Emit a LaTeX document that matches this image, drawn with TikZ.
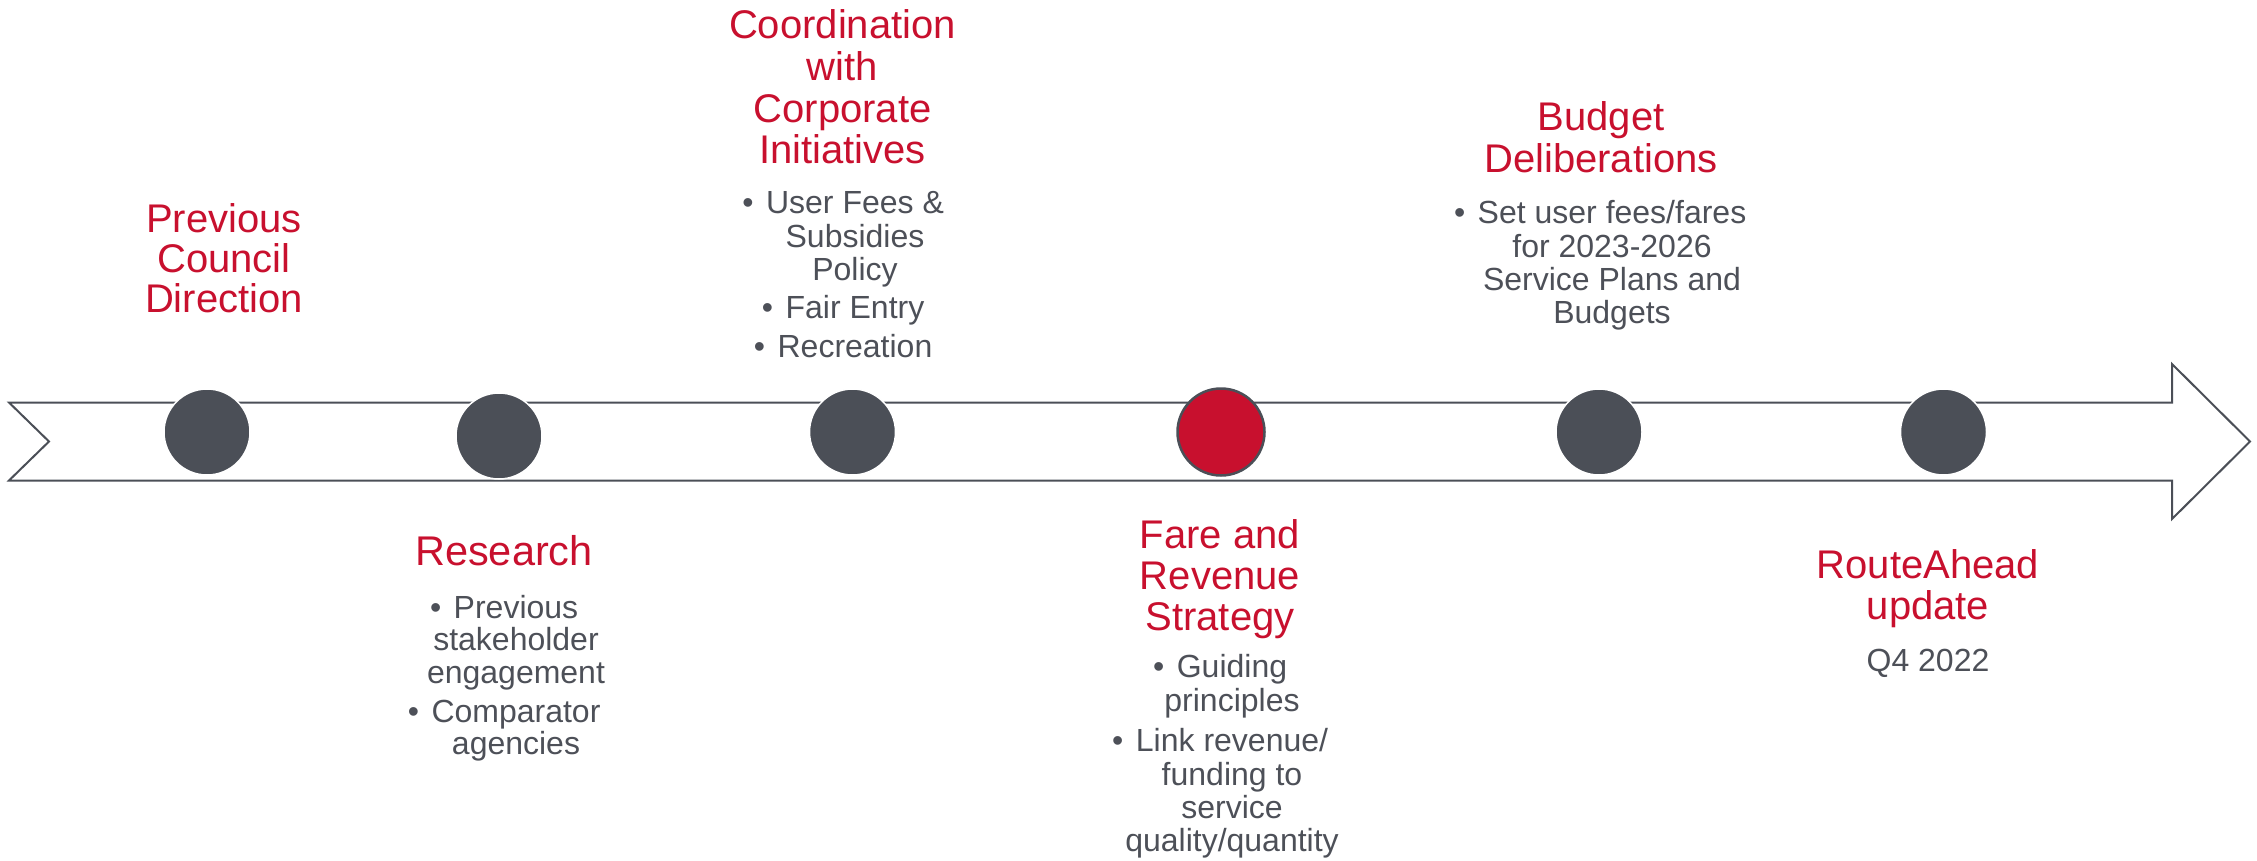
\documentclass[tikz,border=0pt]{standalone}
\usepackage{fontspec}
\setmainfont{Liberation Sans}
\definecolor{tred}{RGB}{200,16,46}
\definecolor{tgrey}{RGB}{77,80,88}
\definecolor{dotgrey}{RGB}{75,79,87}
\newcommand\titlefnt{\fontsize{40}{48}\selectfont}
\newcommand\bodyfnt{\fontsize{32}{38}\selectfont}
\newcommand\bulletmark{\llap{\textbullet\hspace{12.5pt}}}
\tikzset{
  ttl/.style={font=\titlefnt, text=tred, anchor=base, inner sep=0pt},
  bdy/.style={font=\bodyfnt, text=tgrey, anchor=base, inner sep=0pt},
  dot/.style={circle, fill=dotgrey, draw=white, line width=1.5pt, minimum size=86pt, inner sep=0pt},
  reddot/.style={circle, fill=tred, draw=dotgrey, line width=2.5pt, minimum size=87pt, inner sep=0pt},
  band/.style={draw=dotgrey, line width=2pt, line join=miter}
}
\begin{document}
\begin{tikzpicture}[x=1pt,y=-1pt]
\useasboundingbox (0,0) rectangle (2257,860);
% timeline arrow
\draw[band] (9,402.5) -- (2172,402.5) -- (2172,364) -- (2250,441.5) -- (2172,519)
  -- (2172,480.5) -- (9,480.5) -- (49,441.5) -- cycle;
% milestones
\node[dot] (c1) at (207,432) {};
\node[dot] (c2) at (499,436) {};
\node[dot] (c3) at (852.5,432) {};
\node[reddot] (c4) at (1221,432) {};
\node[dot] (c5) at (1599,432) {};
\node[dot] (c6) at (1943.5,432) {};
% Previous Council Direction
\node[ttl] (p1) at (224,232) {Previous};
\node[ttl] (p2) at (224,272) {Council};
\node[ttl] (p3) at (224,312) {Direction};
% Research
\node[ttl, font=\fontsize{41.5}{48}\selectfont] (r1) at (504,565) {Research};
\node[bdy] (r2) at (516,618) {\bulletmark Previous};
\node[bdy] (r3) at (516,650) {stakeholder};
\node[bdy] (r4) at (516,683) {engagement};
\node[bdy] (r5) at (516,722) {\bulletmark Comparator};
\node[bdy] (r6) at (516,754) {agencies};
% Coordination
\node[ttl] (k1) at (842.5,38) {Coordination};
\node[ttl] (k2) at (842.5,80) {with};
\node[ttl] (k3) at (842.5,122) {Corporate};
\node[ttl] (k4) at (842.5,163) {Initiatives};
\node[bdy] (k5) at (855,213) {\bulletmark User Fees \&};
\node[bdy] (k6) at (855,247) {Subsidies};
\node[bdy] (k7) at (855,280) {Policy};
\node[bdy] (k8) at (855,318) {\bulletmark Fair Entry};
\node[bdy] (k9) at (855,357) {\bulletmark Recreation};
% Fare and Revenue Strategy
\node[ttl] (f1) at (1220,548) {Fare and};
\node[ttl] (f2) at (1220,589) {Revenue};
\node[ttl] (f3) at (1220,630) {Strategy};
\node[bdy] (f4) at (1232,677) {\bulletmark Guiding};
\node[bdy] (f5) at (1232,711) {principles};
\node[bdy] (f6) at (1232,751) {\bulletmark Link revenue/};
\node[bdy] (f7) at (1232,785) {funding to};
\node[bdy] (f8) at (1232,818) {service};
\node[bdy] (f9) at (1232,851) {quality/quantity};
% Budget Deliberations
\node[ttl] (b1) at (1601,130) {Budget};
\node[ttl] (b2) at (1601,172) {Deliberations};
\node[bdy] (b3) at (1612,223) {\bulletmark Set user fees/fares};
\node[bdy] (b4) at (1612,257) {for 2023-2026};
\node[bdy] (b5) at (1612,290) {Service Plans and};
\node[bdy] (b6) at (1612,323) {Budgets};
% RouteAhead update
\node[ttl] (u1) at (1928,578) {RouteAhead};
\node[ttl] (u2) at (1928,619) {update};
\node[bdy] (u3) at (1928,671) {Q4 2022};
\end{tikzpicture}
\end{document}
